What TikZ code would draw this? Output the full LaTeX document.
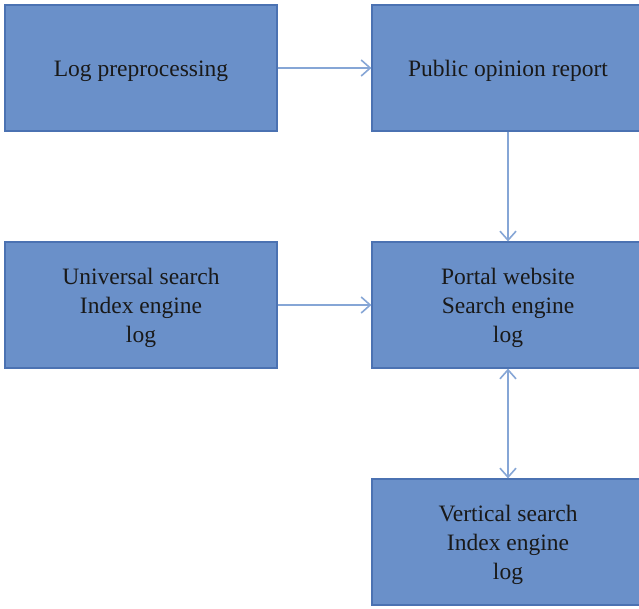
\documentclass[tikz,border=0pt]{standalone}
\usepackage{fontspec}
\setmainfont{Liberation Serif}
\usetikzlibrary{arrows.meta}
\definecolor{boxfill}{HTML}{6A90C9}
\definecolor{boxline}{HTML}{4B72B2}
\definecolor{arrowc}{HTML}{86A6D6}
\begin{document}
\begin{tikzpicture}[x=1pt,y=-1pt,
  box/.style={draw=boxline,line width=1.2pt,fill=boxfill,minimum width=272pt,minimum height=126pt,
    inner sep=0pt,label={[boxtext]center:#1}},
  boxtext/.style={inner sep=0pt,align=center,font=\fontsize{23.5}{29}\selectfont,text=black!90,yshift=-3pt},
  conn/.style={draw=arrowc,line width=1.6pt,-{Straight Barb[length=9pt,width=16pt]}}]
\useasboundingbox (0,0) rectangle (639,608);
\clip (0,0) rectangle (639,608);
\fill[white] (0,0) rectangle (639,608);
\node[box={Log preprocessing}] (lp) at (141,68) {};
\node[box={Public opinion report}] (por) at (508,68) {};
\node[box={Universal search\\Index engine\\log}] (us) at (141,305) {};
\node[box={Portal website\\Search engine\\log}] (pw) at (508,305) {};
\node[box={Vertical search\\Index engine\\log}] (vs) at (508,542) {};
\draw[conn] (lp) -- (por);
\draw[conn] (us) -- (pw);
\draw[conn] (por) -- (pw);
\draw[conn,{Straight Barb[length=9pt,width=16pt]}-{Straight Barb[length=9pt,width=16pt]}] (pw) -- (vs);
\end{tikzpicture}
\end{document}
